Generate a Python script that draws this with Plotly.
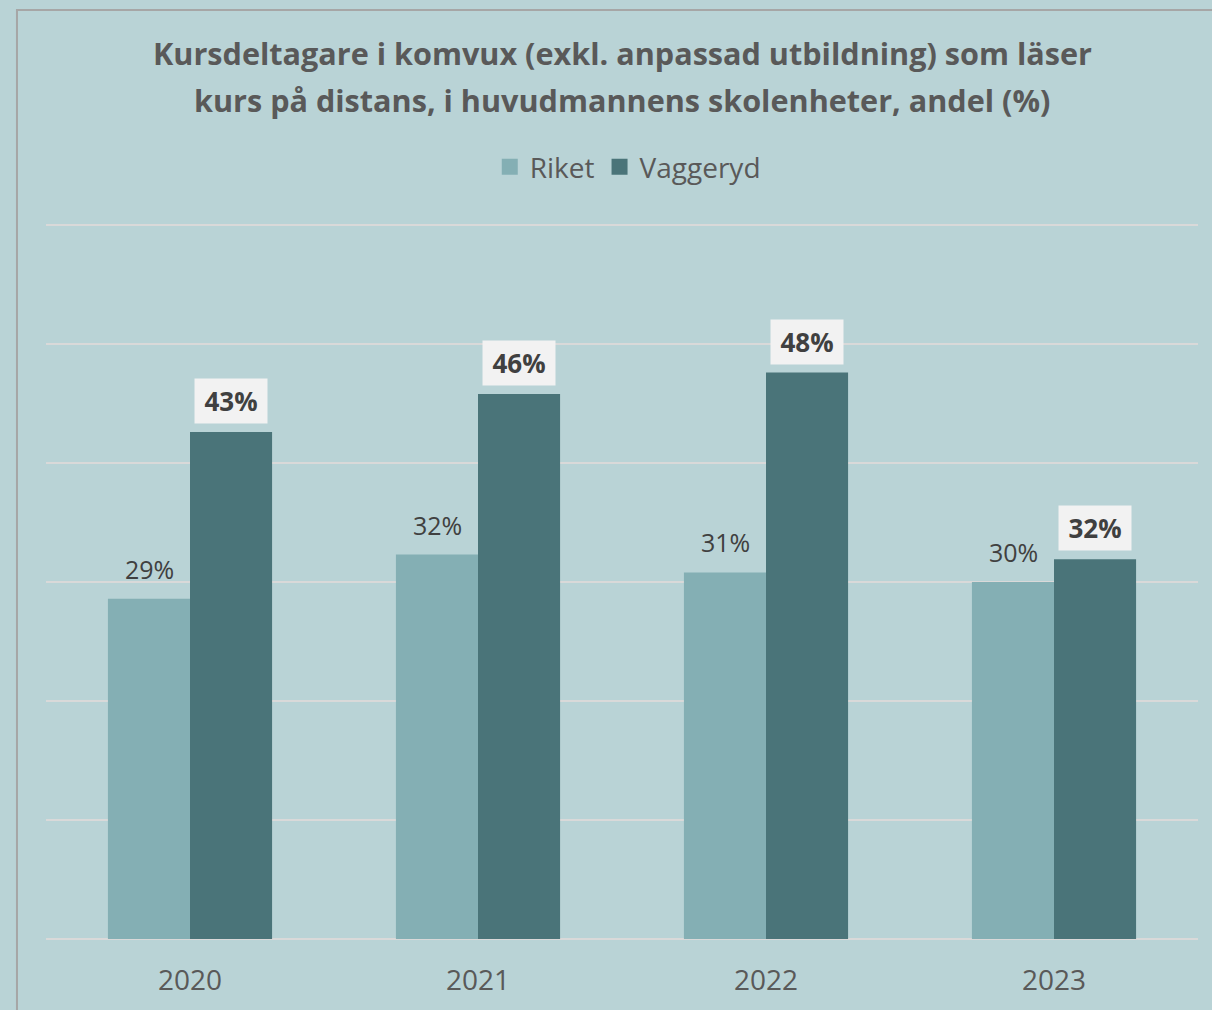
import plotly.graph_objects as go

years = ["2020", "2021", "2022", "2023"]
riket = [28.6, 32.3, 30.8, 30.0]
vaggeryd = [42.6, 45.8, 47.6, 31.9]
riket_labels = ["29%", "32%", "31%", "30%"]
vaggeryd_labels = ["43%", "46%", "48%", "32%"]
series_names = ["Riket", "Vaggeryd"]
title_lines = ["Kursdeltagare i komvux (exkl. anpassad utbildning) som läser",
               "kurs på distans, i huvudmannens skolenheter, andel (%)"]

BG = "#B9D3D6"
C_RIKET = "#84AFB4"
C_VAGG = "#4A7479"
FONT = "Open Sans"
TXT = "#595959"
LBL = "#404040"

Y_MAX = 60.5           # axis top (slightly above the 60 gridline so it is drawn)
PLOT_H = 720           # plot-area height in px
BASE = 939             # px position of the baseline from page top


def py(px):
    """page pixel (from top) -> paper y coordinate"""
    return (BASE - px) / PLOT_H


fig = go.Figure()
fig.add_trace(go.Bar(x=years, y=riket, name=series_names[0], marker=dict(color=C_RIKET, line=dict(width=0)),
                     hoverinfo="skip", showlegend=False))
fig.add_trace(go.Bar(x=years, y=vaggeryd, name=series_names[1], marker=dict(color=C_VAGG, line=dict(width=0)),
                     hoverinfo="skip", showlegend=False))
# legend entries with larger square swatches
for nm, col in zip(series_names, [C_RIKET, C_VAGG]):
    fig.add_trace(go.Scatter(x=[years[0]], y=[None], mode="markers", name=nm,
                             marker=dict(symbol="square", size=20, color=col), hoverinfo="skip"))

# on a category axis, annotation x is given as the category index
for i, (v, t) in enumerate(zip(riket, riket_labels)):
    fig.add_annotation(x=i, y=v, text=t, xshift=-41, yshift=11, yanchor="bottom", showarrow=False,
                       font=dict(family=FONT, size=25, color=LBL))
for i, (v, t) in enumerate(zip(vaggeryd, vaggeryd_labels)):
    fig.add_annotation(x=i, y=v, text="<b>" + t + "</b>", xshift=41, yshift=8, yanchor="bottom",
                       showarrow=False, bgcolor="#F2F2F2", borderpad=0, width=72, height=44,
                       font=dict(family=FONT, size=26, color=LBL))

# title lines
fig.add_annotation(xref="paper", yref="paper", x=0.5, y=py(53), yanchor="middle", showarrow=False,
                   text="<b>" + title_lines[0] + "</b>", font=dict(family=FONT, size=30.6, color=TXT))
fig.add_annotation(xref="paper", yref="paper", x=0.5, y=py(100), yanchor="middle", showarrow=False,
                   text="<b>" + title_lines[1] + "</b>", font=dict(family=FONT, size=30.6, color=TXT))

fig.add_shape(type="rect", xref="paper", yref="paper", x0=-0.0252, x1=1.02, y0=py(1016), y1=py(10),
              line=dict(color="#A6A6A6", width=2), fillcolor="rgba(0,0,0,0)", layer="below")

fig.update_layout(
    width=1212, height=1010,
    paper_bgcolor=BG, plot_bgcolor=BG,
    margin=dict(l=46, r=14, t=1010 - 71 - PLOT_H, b=71),
    barmode="group", bargap=0.43, bargroupgap=0,
    font=dict(family=FONT, color=TXT),
    legend=dict(orientation="h", x=0.505, xanchor="center", y=py(167), yanchor="middle",
                font=dict(family=FONT, size=28, color=TXT), bgcolor="rgba(0,0,0,0)",
                itemwidth=30, traceorder="normal"),
    xaxis=dict(type="category", range=[-0.5, 3.5], autorange=False, showgrid=False, showline=False, ticks="",
               tickfont=dict(family=FONT, size=28, color=TXT), ticklabelstandoff=22),
    yaxis=dict(range=[0, Y_MAX], autorange=False, tick0=0, dtick=10, showgrid=True, gridcolor="#D9D9D9",
               gridwidth=2, showticklabels=False, zeroline=True, zerolinecolor="#D9D9D9", zerolinewidth=2,
               showline=False),
)

fig.write_html("out.html", config={"displayModeBar": False},
               post_script="document.body.style.margin='0';document.body.style.overflow='hidden';")
